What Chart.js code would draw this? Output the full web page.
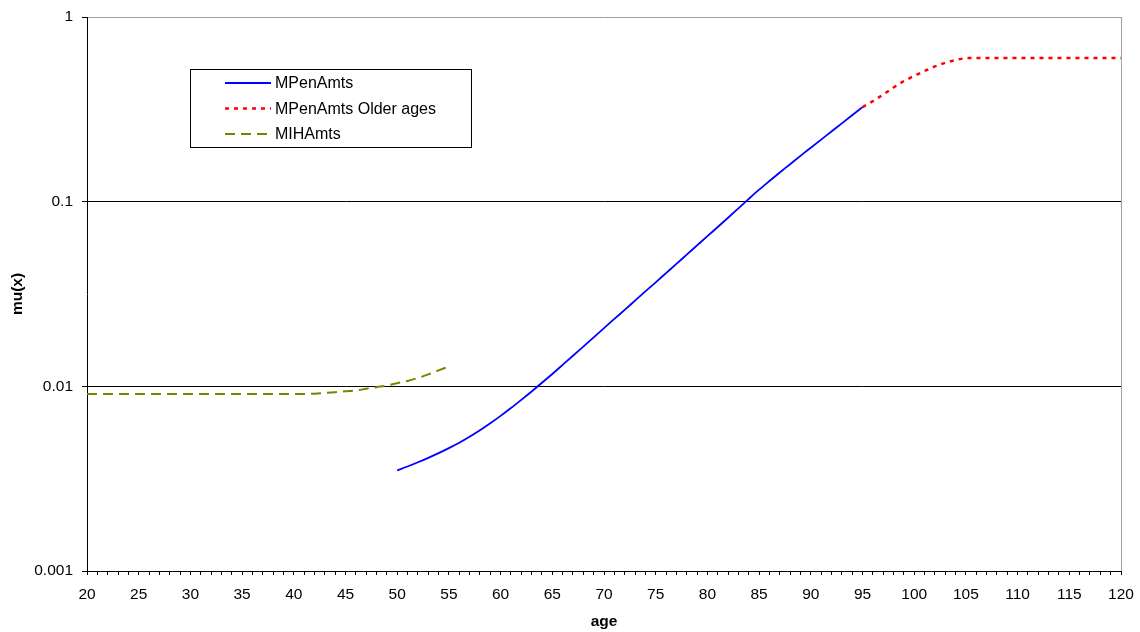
<!DOCTYPE html>
<html>
<head>
<meta charset="utf-8">
<script src="https://cdn.jsdelivr.net/npm/chart.js@4/dist/chart.umd.min.js"></script>
<style>
  html, body { margin: 0; padding: 0; background: #fff; }
  #wrap { width: 1140px; height: 632px; }
</style>
</head>
<body>
<div id="wrap"><canvas id="c" width="1140" height="632"></canvas></div>
<script>
// Force of mortality mu(x) by age, on a log scale.
const penAges = [50,51,52,53,54,55,56,57,58,59,60,61,62,63,64,65,66,67,68,69,70,
  71,72,73,74,75,76,77,78,79,80,81,82,83,84,85,86,87,88,89,90,91,92,93,94,95];
const penMu = [0.00351,0.00368,0.00388,0.00410,0.00435,0.00463,0.00495,0.00533,0.00578,0.00631,
  0.00692,0.00763,0.00845,0.00938,0.01045,0.01167,0.01307,0.01464,0.01642,0.01840,
  0.02065,0.02317,0.02594,0.02911,0.03266,0.03656,0.04102,0.04603,0.05164,0.05794,
  0.06501,0.07295,0.08185,0.09204,0.1035,0.1161,0.1294,0.1439,0.1596,0.1770,
  0.1959,0.2168,0.2399,0.2655,0.2938,0.3251];

const oldAges = [95,96,97,98,99,100,101,102,103,104,105,106,107,108,109,110,111,112,113,114,115,116,117,118,119,120];
const oldMu = [0.3251,0.350,0.380,0.415,0.450,0.480,0.510,0.540,0.565,0.585,0.600,
  0.600,0.600,0.600,0.600,0.600,0.600,0.600,0.600,0.600,0.600,0.600,0.600,0.600,0.600,0.600];

const ihAges = [20,21,22,23,24,25,26,27,28,29,30,31,32,33,34,35,36,37,38,39,40,41,
  42,43,44,45,46,47,48,49,50,51,52,53,54,55];
const ihMu = [0.0091,0.0091,0.0091,0.0091,0.0091,0.0091,0.0091,0.0091,0.0091,0.0091,
  0.0091,0.0091,0.0091,0.0091,0.0091,0.0091,0.0091,0.0091,0.0091,0.0091,0.0091,0.0091,
  0.00912,0.0092,0.0093,0.0094,0.0095,0.0097,0.0099,0.0101,0.0104,0.0107,0.0111,0.0116,0.0122,0.0128];

const seriesNames = ['MPenAmts', 'MPenAmts Older ages', 'MIHAmts'];
const yTickValues = [0.001, 0.01, 0.1, 1];
const yTickLabels = ['0.001', '0.01', '0.1', '1'];
const xMin = 20, xMax = 120, xLabelStep = 5;

const FONT = '"Liberation Sans", Arial, Helvetica, sans-serif';

function pairs(xs, ys) { return xs.map((x, i) => ({ x: x, y: ys[i] })); }

// Legend drawn as a framed box inside the plot area
const boxLegend = {
  id: 'boxLegend',
  afterDraw(chart) {
    const ctx = chart.ctx;
    const x0 = 190.5, y0 = 69.5, w = 281, h = 78;
    ctx.save();
    ctx.fillStyle = '#fff';
    ctx.fillRect(x0, y0, w, h);
    ctx.strokeStyle = '#000';
    ctx.lineWidth = 1;
    ctx.setLineDash([]);
    ctx.strokeRect(x0, y0, w, h);
    const rows = [83, 108.5, 134];
    chart.data.datasets.forEach((ds, i) => {
      const y = rows[i];
      ctx.beginPath();
      ctx.strokeStyle = ds.borderColor;
      ctx.lineWidth = ds.borderWidth;
      ctx.setLineDash(ds.borderDash || []);
      ctx.moveTo(225, y);
      ctx.lineTo(271, y);
      ctx.stroke();
      ctx.setLineDash([]);
      ctx.fillStyle = '#000';
      ctx.font = '16px ' + FONT;
      ctx.textBaseline = 'middle';
      ctx.textAlign = 'left';
      ctx.fillText(ds.label, 275, y + 1);
    });
    ctx.restore();
  }
};

new Chart(document.getElementById('c'), {
  type: 'line',
  data: {
    datasets: [
      { label: seriesNames[0], data: pairs(penAges, penMu), borderColor: '#0000ff',
        borderWidth: 1.8, pointRadius: 0, tension: 0.3, cubicInterpolationMode: 'monotone', fill: false },
      { label: seriesNames[1], data: pairs(oldAges, oldMu), borderColor: '#ff0000',
        borderWidth: 2.5, borderDash: [4, 5], pointRadius: 0, tension: 0, fill: false },
      { label: seriesNames[2], data: pairs(ihAges, ihMu), borderColor: '#808000',
        borderWidth: 2, borderDash: [10, 6], pointRadius: 0, tension: 0.3, cubicInterpolationMode: 'monotone', fill: false }
    ]
  },
  options: {
    responsive: false,
    animation: false,
    devicePixelRatio: 1,
    layout: { padding: { left: 0, top: 17, right: 19, bottom: 0 } },
    plugins: { legend: { display: false }, tooltip: { enabled: false } },
    scales: {
      x: {
        type: 'linear',
        min: xMin, max: xMax,
        afterBuildTicks(scale) {
          const t = [];
          for (let v = xMin; v <= xMax; v++) t.push({ value: v });
          scale.ticks = t;
        },
        afterFit(scale) {
          scale.height = 61;
          scale.paddingLeft = 0;
          scale.paddingRight = 0;
        },
        ticks: {
          autoSkip: false, maxRotation: 0, padding: 10, color: '#000',
          font: { family: FONT, size: 15.5 },
          callback: (v) => (v % xLabelStep === 0 ? String(v) : '')
        },
        grid: {
          drawOnChartArea: true,
          color: (c) => (c.tick && c.tick.value === xMax ? '#a0a0a0' : 'rgba(0,0,0,0)'),
          tickColor: '#000', tickLength: 4, lineWidth: 1
        },
        border: { display: true, color: '#000', width: 1 },
        title: { display: true, text: 'age', color: '#000',
          font: { family: FONT, size: 15.5, weight: 'bold' }, padding: { top: 0, bottom: 1 } }
      },
      y: {
        type: 'logarithmic',
        min: 0.001, max: 1,
        afterBuildTicks(scale) { scale.ticks = yTickValues.map(v => ({ value: v })); },
        afterFit(scale) {
          scale.width = 87;
          scale.paddingTop = 0;
          scale.paddingBottom = 0;
        },
        ticks: {
          padding: 9, color: '#000',
          font: { family: FONT, size: 15.5 },
          callback: (v) => { const i = yTickValues.indexOf(v); return i >= 0 ? yTickLabels[i] : ''; }
        },
        grid: {
          color: (c) => (c.tick && c.tick.value === 1 ? '#a0a0a0' : '#000'),
          tickColor: '#000', tickLength: 5, lineWidth: 1
        },
        border: { display: true, color: '#000', width: 1 },
        title: { display: true, text: 'mu(x)', color: '#000',
          font: { family: FONT, size: 15.5, weight: 'bold' }, padding: { top: 8, bottom: 0 } }
      }
    }
  },
  plugins: [boxLegend]
});
</script>
</body>
</html>
